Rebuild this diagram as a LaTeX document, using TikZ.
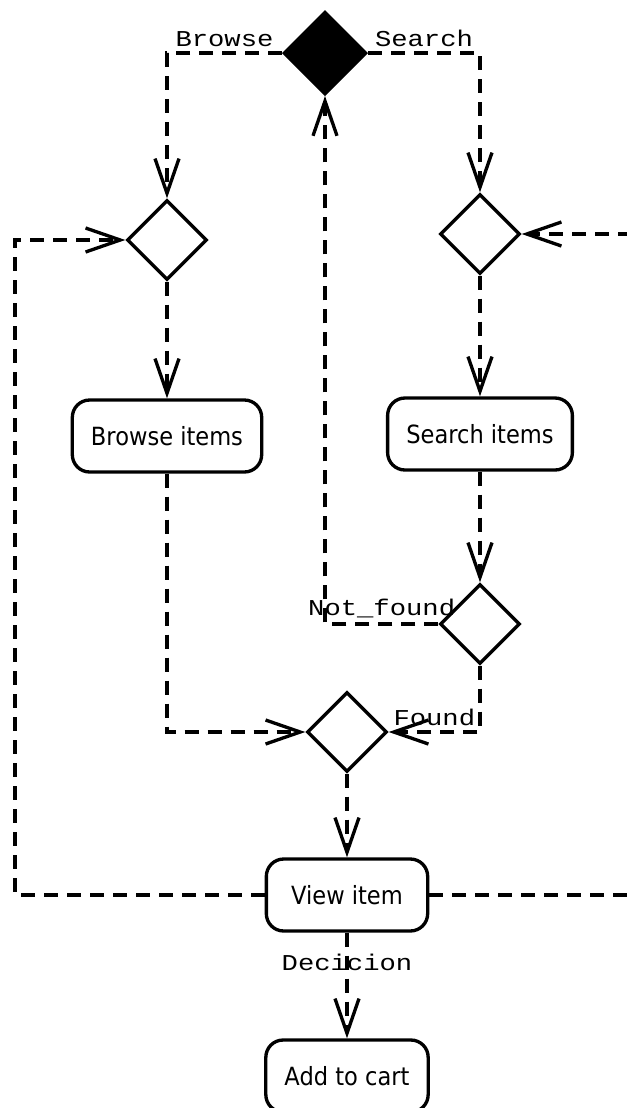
\documentclass[tikz,border=0pt]{standalone}
\usepackage{fontspec}
\setmainfont{DejaVu Sans}[FakeStretch=0.9]
\newfontfamily\guardfont{Liberation Mono}[FakeStretch=1.2]
\usetikzlibrary{shapes.geometric,positioning,arrows.meta}

\begin{document}
\begin{tikzpicture}[node distance=2cm,on grid,line width=2.5pt,
    activity/.style={draw, rounded corners=13pt, minimum height=54pt, inner xsep=14pt,
                     font=\fontsize{18.8}{22}\selectfont},
    decision/.style={draw, diamond, aspect=1, minimum size=60pt, inner sep=0pt},
    fork/.style={decision, fill=black, minimum size=62pt},
    flow/.style={dash pattern=on 10.5pt off 6.75pt, -{Straight Barb[length=26pt,width=18pt]}},
    guard/.style={font=\guardfont\fontsize{17}{20}\selectfont, inner sep=2pt, outer sep=2.5pt}]
     \useasboundingbox (0,0) rectangle (470.25pt,-831pt);
     \node[fork] (choice) at (243.75pt,-39.75pt) {};
     \node[decision] (bdec) [below left=140.25pt and 118.5pt of choice] {};
     \node[decision] (sdec) [below right=135.75pt and 116.25pt of choice] {};
     \node[activity] (browse) [below=147pt of bdec] {Browse items};
     \node[activity] (search) [below=150pt of sdec] {Search items};
     \node[decision] (fdec) [below=142.5pt of search] {};
     \node[decision] (merge) [below left=81pt and 99.75pt of fdec] {};
     \node[activity, minimum width=121pt] (view) [below=122.25pt of merge] {View item};
     \node[activity] (cart) [below=135.75pt of view] {Add to cart};
     % loop-back lanes at the sides
     \coordinate (lloop) at (11.25pt,0);
     \coordinate (rloop) at (495pt,0);
      \draw[flow] (choice.west) -| node[guard, above, pos=0.25] {Browse} (bdec.north);
      \draw[flow] (choice.east) -| node[guard, above, pos=0.25] {Search} (sdec.north);
      \draw[flow] (bdec) -- (browse);
      \draw[flow] (sdec) -- (search);
      \draw[flow] (search) -- (fdec);
      \draw[flow] (fdec.west) -| node[guard, above, pos=0.25] {Not\_found} (choice.south);
      \draw[flow] (fdec.south) |- node[guard, above, pos=0.75] {Found} (merge.east);
      \draw[flow] (browse.south) |- (merge.west);
      \draw[flow] (merge) -- (view);
      \draw[flow] (view.west) -- (view.west -| lloop) |- (bdec.west);
      \draw[flow] (view.east) -- (view.east -| rloop) |- (sdec.east);
      \draw[flow] (view) -- node[guard, pos=0.28, outer sep=0pt] {Decicion} (cart);
    \end{tikzpicture}
\end{document}
